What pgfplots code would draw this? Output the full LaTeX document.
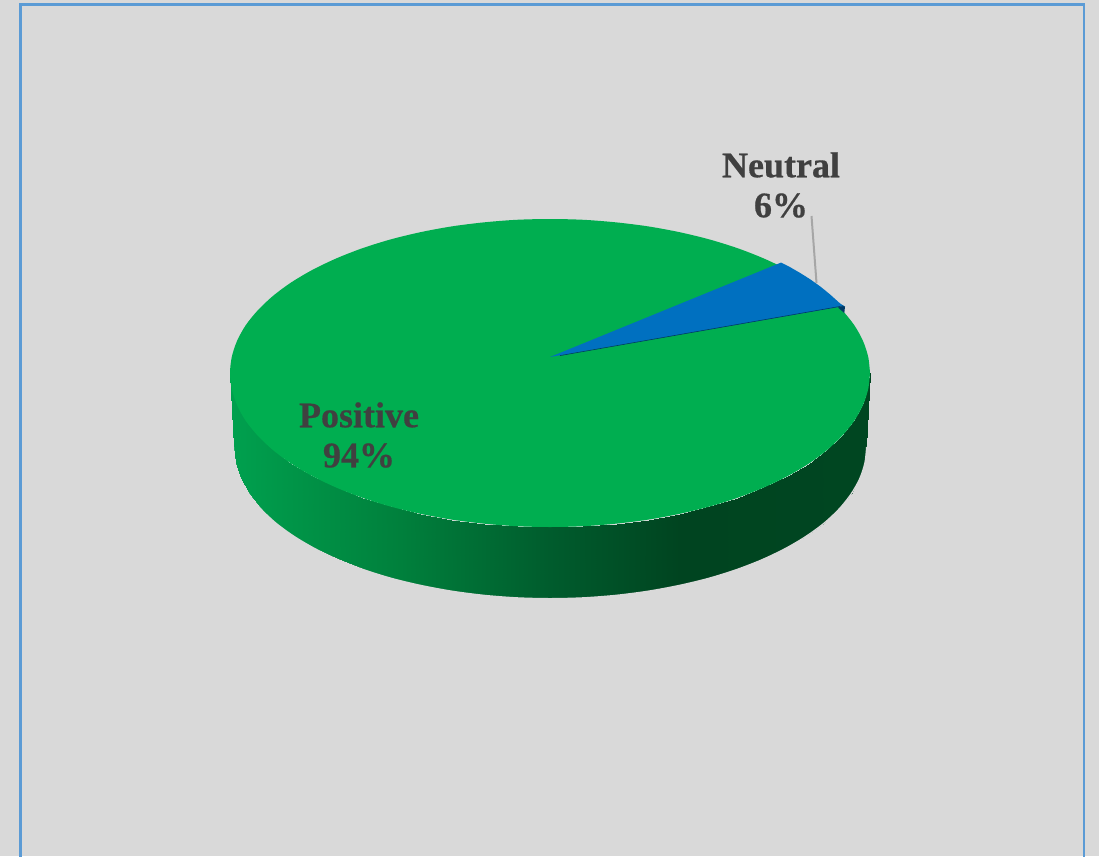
\documentclass[border=0pt]{standalone}
\usepackage{fontspec}
\setmainfont{Liberation Serif}
\newfontfamily\labelfont[BoldFeatures={FakeBold=0.5}]{Liberation Serif}
\usepackage{pgfplots}
\pgfplotsset{compat=1.18}
\definecolor{panel}{HTML}{D9D9D9}
\definecolor{frameblue}{HTML}{5B9BD5}
\definecolor{pieGreen}{HTML}{00AE50}
\definecolor{pieBlue}{HTML}{0070C0}
\definecolor{pieBlueDark}{HTML}{003A66}
\definecolor{labelGrey}{HTML}{404040}
\definecolor{leader}{HTML}{A6A6A6}
\begin{document}
\begin{tikzpicture}
\begin{axis}[
  scale only axis, width=1099pt, height=856pt,
  xmin=0, xmax=1099, ymin=0, ymax=856,
  y dir=reverse, hide axis,
  colormap={pieside}{rgb255(232)=(0,160,78) rgb255(400)=(0,128,60) rgb255(550)=(0,92,45) rgb255(680)=(0,68,32) rgb255(870)=(0,70,33)},
  point meta min=232, point meta max=870,
]
% panel background
\addplot[fill=panel, draw=none] coordinates {(0,0)(1099,0)(1099,856)(0,856)} -- cycle;
% chart frame, open at the bottom edge
\addplot[frameblue, line width=2.4pt] coordinates {(20.5,860)(20.5,4.5)(1084,4.5)(1084,860)};
% rim of the disc: upper row follows the top face, lower row the bottom edge
\addplot[surf, shader=interp, mesh/rows=2, mesh/cols=31, point meta=x] table[row sep=\\] {
x y\\
870 373\\ 868.2 389.1\\ 863 405\\ 854.4 420.6\\ 842.3 435.6\\ 827.1 450\\ 808.9 463.5\\ 787.8 476\\ 764.1 487.4\\ 738.1 497.6\\ 710 506.4\\ 680.1 513.7\\ 648.9 519.5\\ 616.5 523.6\\ 583.4 526.2\\ 550 527\\ 516.6 526.2\\ 483.5 523.6\\ 451.1 519.5\\ 419.9 513.7\\ 390 506.4\\ 361.9 497.6\\ 335.9 487.4\\ 312.2 476\\ 291.1 463.5\\ 272.9 450\\ 257.7 435.6\\ 245.6 420.6\\ 237 405\\ 231.8 389.1\\ 230 373\\
866 447\\ 864.3 462.8\\ 859.1 478.4\\ 850.5 493.7\\ 838.7 508.4\\ 823.7 522.5\\ 805.6 535.8\\ 784.8 548\\ 761.4 559.2\\ 735.7 569.2\\ 708 577.8\\ 678.5 584.9\\ 647.6 590.6\\ 615.7 594.7\\ 583 597.2\\ 550 598\\ 517 597.2\\ 484.3 594.7\\ 452.4 590.6\\ 421.5 584.9\\ 392 577.8\\ 364.3 569.2\\ 338.6 559.2\\ 315.2 548\\ 294.4 535.8\\ 276.3 522.5\\ 261.3 508.4\\ 249.5 493.7\\ 240.9 478.4\\ 235.7 462.8\\ 234 447\\
};
% rounds off the lower edge of the rim
\addplot[panel, line width=1.4pt, smooth] coordinates {(866.7,447)(865,462.8)(859.8,478.7)(851.1,494.1)(839.3,508.9)(824.2,523.1)(806,536.4)(785.1,548.7)(761.7,559.9)(735.9,569.9)(708.2,578.5)(678.6,585.6)(647.7,591.3)(615.8,595.4)(583,597.9)(550,598.7)(517,597.9)(484.2,595.4)(452.3,591.3)(421.4,585.6)(391.8,578.5)(364.1,569.9)(338.3,559.9)(314.9,548.7)(294,536.4)(275.8,523.1)(260.7,508.9)(248.9,494.1)(240.2,478.7)(235,462.8)(233.3,447)};
% top face
\addplot[fill=pieGreen, draw=none, smooth] coordinates {
(870,373)(868.2,389.1)(863,405)(854.4,420.6)(842.3,435.6)(827.1,450)(808.9,463.5)(787.8,476)(764.1,487.4)(738.1,497.6)(710,506.4)(680.1,513.7)(648.9,519.5)(616.5,523.6)(583.4,526.2)(550,527)(516.6,526.2)(483.5,523.6)(451.1,519.5)(419.9,513.7)(390,506.4)(361.9,497.6)(335.9,487.4)(312.2,476)(291.1,463.5)(272.9,450)(257.7,435.6)(245.6,420.6)(237,405)(231.8,389.1)(230,373)
(231.8,356.9)(237,341)(245.6,325.4)(257.7,310.4)(272.9,296)(291.1,282.5)(312.2,270)(335.9,258.6)(361.9,248.4)(390,239.6)(419.9,232.3)(451.1,226.5)(483.5,222.4)(516.6,219.8)(550,219)(583.4,219.8)(616.5,222.4)(648.9,226.5)(680.1,232.3)(710,239.6)(738.1,248.4)(764.1,258.6)(787.8,270)(808.9,282.5)(827.1,296)(842.3,310.4)(854.4,325.4)(863,341)(868.2,356.9)(870,373)
} -- cycle;
% cut face of the neutral slice
\addplot[fill=pieBlueDark, draw=none] coordinates {(838,307.6)(843,305.7)(845,306.5)(844.3,313)} -- cycle;
% neutral slice
\addplot[fill=pieBlue, draw=none] coordinates {(550,357)(781,262.6)(785,264.5)(790,267.1)(795,270)(800,272.9)(805,276)(810,279.2)(815,282.7)(820,286.3)(825,290.3)(830,294.4)(835,298.9)(840,303.4)(844,306)} -- cycle;
\addplot[pieBlueDark, line width=0.6pt] coordinates {(560,355.6)(843,305.9)};
% leader line of the neutral label
\addplot[leader, line width=2pt] coordinates {(811.5,216)(816.5,283)};
\node[align=center, text=labelGrey, font=\labelfont\fontsize{36}{40}\selectfont\bfseries, inner sep=0pt] at (axis cs:781,185) {Neutral\\6\%};
\node[align=center, text=labelGrey, font=\labelfont\fontsize{36}{40}\selectfont\bfseries, inner sep=0pt] at (axis cs:359,435) {Positive\\94\%};
\end{axis}
\end{tikzpicture}
\end{document}
